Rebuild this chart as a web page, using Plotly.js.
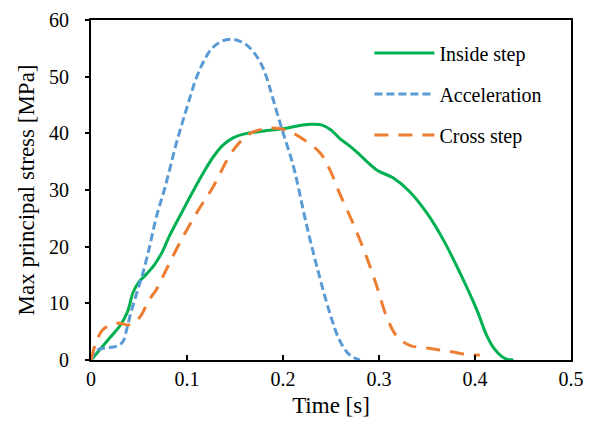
<!DOCTYPE html>
<html>
<head>
<meta charset="utf-8">
<script src="https://cdn.plot.ly/plotly-3.0.1.min.js"></script>
</head>
<body style="margin:0">
<div id="chart" style="width:594px;height:428px"></div>
<script>
// Inside step (green solid)
const insideT = [0, 0.010, 0.020, 0.030, 0.038, 0.044, 0.050, 0.058, 0.066, 0.074, 0.082, 0.096, 0.108, 0.118, 0.128, 0.138, 0.148, 0.160, 0.183, 0.200, 0.215, 0.228, 0.240, 0.250, 0.259, 0.270, 0.280, 0.298, 0.315, 0.332, 0.350, 0.367, 0.384, 0.402, 0.412, 0.420, 0.428, 0.434, 0.440];
const insideV = [0, 2.0, 4.0, 6.0, 8.5, 12.0, 13.8, 15.2, 16.8, 19.0, 22.0, 26.5, 30.3, 33.3, 36.0, 38.0, 39.2, 39.9, 40.5, 40.8, 41.3, 41.6, 41.5, 40.6, 39.1, 37.7, 36.2, 33.5, 32.1, 29.7, 25.9, 21.2, 15.5, 8.8, 4.4, 2.0, 0.6, 0.1, 0];

// Acceleration (blue dashed)
const accelT = [0, 0.005, 0.014, 0.026, 0.033, 0.037, 0.041, 0.048, 0.054, 0.061, 0.068, 0.077, 0.089, 0.100, 0.110, 0.118, 0.126, 0.137, 0.148, 0.156, 0.162, 0.170, 0.178, 0.183, 0.188, 0.197, 0.204, 0.211, 0.225, 0.239, 0.250, 0.258, 0.266, 0.273, 0.280];
const accelV = [0, 1.6, 2.1, 2.4, 3.2, 5.3, 8.0, 12.0, 15.3, 20.0, 25.2, 30.4, 38.3, 44.6, 49.9, 52.9, 55.0, 56.3, 56.6, 56.2, 55.6, 54.2, 52.0, 49.8, 47.0, 41.8, 38.0, 34.1, 23.5, 14.1, 7.6, 3.8, 1.5, 0.5, 0];

// Cross step (orange dashed)
const crossT = [0, 0.005, 0.012, 0.022, 0.030, 0.040, 0.051, 0.060, 0.068, 0.080, 0.096, 0.112, 0.127, 0.148, 0.166, 0.186, 0.200, 0.211, 0.225, 0.239, 0.249, 0.259, 0.273, 0.287, 0.298, 0.308, 0.319, 0.332, 0.350, 0.374, 0.395, 0.405];
const crossV = [0, 3.0, 5.3, 6.3, 6.5, 6.2, 7.6, 10.5, 12.4, 16.5, 21.8, 26.5, 30.5, 37.0, 40.0, 40.9, 40.7, 40.0, 38.5, 36.5, 33.5, 29.4, 24.1, 18.2, 12.9, 7.6, 4.1, 2.6, 2.1, 1.5, 0.9, 0.9];

const seriesNames = ['Inside step', 'Acceleration', 'Cross step'];
const xTickVals = [0, 0.1, 0.2, 0.3, 0.4, 0.5];
const xTickText = ['0', '0.1', '0.2', '0.3', '0.4', '0.5'];
const yTickVals = [0, 10, 20, 30, 40, 50, 60];

const traces = [
  { x: insideT, y: insideV, name: seriesNames[0],
    line: { color: '#00B050', width: 3, shape: 'spline', smoothing: 1 }, mode: 'lines', legendgroup: 'a' },
  { x: accelT, y: accelV, name: seriesNames[1],
    line: { color: '#5B9BD5', width: 3, dash: '8px,4px', shape: 'spline', smoothing: 1 }, mode: 'lines', legendgroup: 'b' },
  { x: crossT, y: crossV, name: seriesNames[2],
    line: { color: '#ED7D31', width: 3, dash: '14px,10px', shape: 'spline', smoothing: 1 }, mode: 'lines', legendgroup: 'c' }
];

const layout = {
  width: 594, height: 428,
  margin: { l: 91, r: 23, t: 20, b: 68 },
  font: { family: 'Liberation Serif', size: 20, color: 'black' },
  showlegend: true,
  legend: {
    x: 0.58, y: 0.96, xanchor: 'left', yanchor: 'top',
    bgcolor: 'rgba(0,0,0,0)', borderwidth: 0,
    itemwidth: 60, traceorder: 'grouped', tracegroupgap: 12
  },
  xaxis: {
    range: [0, 0.5], tickvals: xTickVals, ticktext: xTickText,
    ticks: 'inside', ticklen: 5, tickwidth: 2, tickcolor: 'black',
    showline: true, linecolor: 'black', linewidth: 2, mirror: true,
    showgrid: false, zeroline: false,
    title: { text: 'Time [s]', font: { size: 23 }, standoff: 8 }
  },
  yaxis: {
    range: [0, 60], tickvals: yTickVals,
    ticks: 'outside', ticklen: 4, tickwidth: 2, tickcolor: 'black',
    showline: true, linecolor: 'black', linewidth: 2, mirror: true,
    showgrid: false, zeroline: false,
    ticklabelstandoff: 12,
    title: { text: 'Max principal stress [MPa]', font: { size: 23 }, standoff: 8 }
  }
};

function draw() {
  return Plotly.newPlot('chart', traces, layout, { staticPlot: true }).then(function () {
    document.querySelectorAll('#chart text').forEach(function (t) {
      t.style.setProperty('font-family', '"Liberation Serif", serif', 'important');
    });
  });
}

if (document.fonts && document.fonts.load) {
  document.fonts.load('20px "Liberation Serif"').then(draw, draw);
} else {
  draw();
}
</script>
</body>
</html>
